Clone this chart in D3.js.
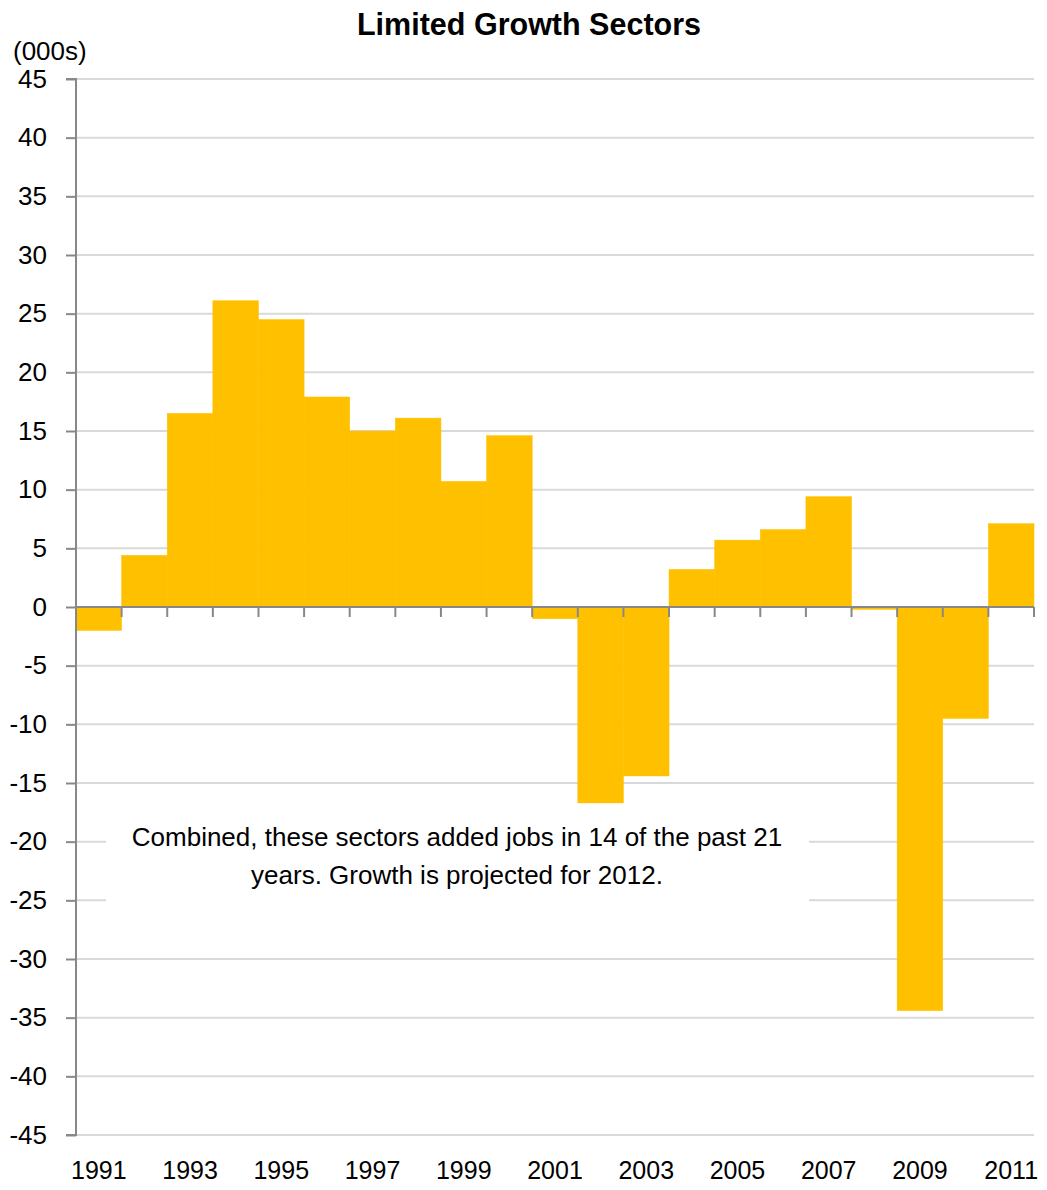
<!DOCTYPE html>
<html>
<head>
<meta charset="utf-8">
<script src="https://cdn.jsdelivr.net/npm/d3@7"></script>
<style>
  body { margin: 0; background: #fff; }
  svg { display: block; font-family: "Liberation Sans", Arial, sans-serif; }
</style>
</head>
<body>
<div id="chart"></div>
<script>
// data (thousands of jobs)
const years = ["1991","1992","1993","1994","1995","1996","1997","1998","1999","2000","2001",
               "2002","2003","2004","2005","2006","2007","2008","2009","2010","2011"];
const values = [-2.0, 4.4, 16.5, 26.1, 24.5, 17.9, 15.0, 16.1, 10.7, 14.6, -1.0,
                -16.7, -14.4, 3.2, 5.7, 6.6, 9.4, -0.2, -34.4, -9.5, 7.1];
const yTicks = [45, 40, 35, 30, 25, 20, 15, 10, 5, 0, -5, -10, -15, -20, -25, -30, -35, -40, -45];
const xLabels = ["1991","1993","1995","1997","1999","2001","2003","2005","2007","2009","2011"];
const note = ["Combined, these sectors added jobs in 14 of the past 21",
              "years. Growth is projected for 2012."];

const width = 1047, height = 1190;
const plotLeft = 76, plotRight = 1034, plotTop = 79, plotBottom = 1135;

const svg = d3.select("#chart").append("svg")
    .attr("width", width)
    .attr("height", height);

const x = d3.scaleBand().domain(years).range([plotLeft, plotRight]).padding(0);
const y = d3.scaleLinear().domain([-45, 45]).range([plotBottom, plotTop]);

// title + unit
svg.append("text")
    .attr("x", 529).attr("y", 35)
    .attr("text-anchor", "middle")
    .attr("font-size", 30.5)
    .attr("font-weight", "bold")
    .text("Limited Growth Sectors");

svg.append("text")
    .attr("x", 13).attr("y", 60)
    .attr("font-size", 26)
    .text("(000s)");

// gridlines
svg.append("g")
    .selectAll("line")
    .data(yTicks.filter(d => d !== 0))
    .join("line")
    .attr("x1", plotLeft).attr("x2", plotRight)
    .attr("y1", d => y(d)).attr("y2", d => y(d))
    .attr("stroke", "#d9d9d9")
    .attr("stroke-width", 2);

// note box covers gridlines
svg.append("rect")
    .attr("x", 106).attr("y", 806)
    .attr("width", 703).attr("height", 110)
    .attr("fill", "#fff");

svg.append("g")
    .selectAll("text")
    .data(note)
    .join("text")
    .attr("x", 457)
    .attr("y", (d, i) => 846 + i * 38)
    .attr("text-anchor", "middle")
    .attr("font-size", 26)
    .text(d => d);

// bars
svg.append("g")
    .selectAll("rect")
    .data(values)
    .join("rect")
    .attr("x", (d, i) => x(years[i]))
    .attr("width", x.bandwidth())
    .attr("y", d => y(Math.max(0, d)))
    .attr("height", d => Math.abs(y(d) - y(0)))
    .attr("fill", "#ffc000")
    .attr("stroke", "#ffc000")
    .attr("stroke-width", 0.5);

// y axis
const yAxis = svg.append("g")
    .attr("transform", `translate(${plotLeft},0)`)
    .call(d3.axisLeft(y).tickValues(yTicks).tickSize(10).tickPadding(19).tickFormat(d => String(d)));
yAxis.select(".domain").attr("stroke", "#888").attr("stroke-width", 2)
    .attr("d", `M-10,${plotTop}H0V${plotBottom}H-10`);
yAxis.selectAll(".tick line").attr("stroke", "#888").attr("stroke-width", 2);
yAxis.selectAll(".tick text").attr("font-size", 26).attr("font-family", null).attr("fill", "#000");

// zero line with category-boundary ticks
const zero = svg.append("g");
zero.append("line")
    .attr("x1", plotLeft).attr("x2", plotRight)
    .attr("y1", y(0)).attr("y2", y(0))
    .attr("stroke", "#888").attr("stroke-width", 2);
zero.selectAll(".bt")
    .data(years.concat(["end"]))
    .join("line")
    .attr("class", "bt")
    .attr("x1", (d, i) => i < years.length ? x(d) : plotRight)
    .attr("x2", (d, i) => i < years.length ? x(d) : plotRight)
    .attr("y1", y(0)).attr("y2", y(0) + 10)
    .attr("stroke", "#888").attr("stroke-width", 2);

// x labels at bottom
svg.append("g")
    .selectAll("text")
    .data(xLabels)
    .join("text")
    .attr("x", d => x(d) + x.bandwidth() / 2)
    .attr("y", 1179)
    .attr("text-anchor", "middle")
    .attr("font-size", 25)
    .text(d => d);
</script>
</body>
</html>
